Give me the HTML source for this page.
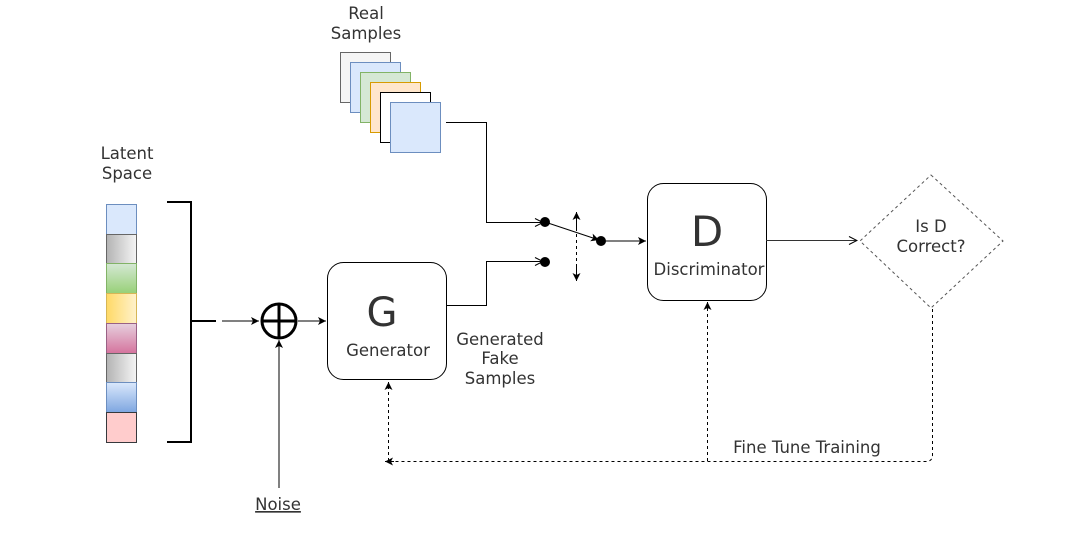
<!DOCTYPE html>
<html><head><meta charset="utf-8"><style>
html,body{margin:0;padding:0;background:#fff;}
svg{display:block;}
text{font-family:"DejaVu Sans","Liberation Sans",sans-serif;fill:#333;}
</style></head><body>
<svg width="1073" height="539" viewBox="0 0 1073 539" xmlns="http://www.w3.org/2000/svg">
<defs>
<marker id="a" markerWidth="10" markerHeight="10" refX="9" refY="5" orient="auto" markerUnits="userSpaceOnUse"><path d="M1,1 L9,5 L1,9 L3,5 z" fill="#000"/></marker>
<marker id="o" markerWidth="10" markerHeight="10" refX="9" refY="5" orient="auto" markerUnits="userSpaceOnUse"><path d="M1,1 L9,5 L1,9" fill="none" stroke="#000"/></marker>
<linearGradient id="g1" x1="0" y1="0" x2="1" y2="0"><stop offset="0" stop-color="#b3b3b3"/><stop offset="1" stop-color="#f5f5f5"/></linearGradient>
<linearGradient id="g2" x1="0" y1="1" x2="0" y2="0"><stop offset="0" stop-color="#97d077"/><stop offset="1" stop-color="#d5e8d4"/></linearGradient>
<linearGradient id="g3" x1="1" y1="0" x2="0" y2="0"><stop offset="0" stop-color="#fff2cc"/><stop offset="1" stop-color="#ffd966"/></linearGradient>
<linearGradient id="g4" x1="0" y1="0" x2="0" y2="1"><stop offset="0" stop-color="#e6d0de"/><stop offset="1" stop-color="#d5739d"/></linearGradient>
<linearGradient id="g5" x1="0" y1="0" x2="0" y2="1"><stop offset="0" stop-color="#dae8fc"/><stop offset="1" stop-color="#7ea6e0"/></linearGradient>
</defs>

<text x="366" y="19" font-size="16.5" text-anchor="middle">Real</text>
<text x="366" y="39" font-size="16.5" text-anchor="middle">Samples</text>
<rect x="340.5" y="52.5" width="50" height="50" fill="#f5f5f5" stroke="#666"/>
<rect x="350.5" y="62.5" width="50" height="50" fill="#dae8fc" stroke="#6c8ebf"/>
<rect x="360.5" y="72.5" width="50" height="50" fill="#d5e8d4" stroke="#82b366"/>
<rect x="370.5" y="82.5" width="50" height="50" fill="#ffe6cc" stroke="#d79b00"/>
<rect x="380.5" y="92.5" width="50" height="50" fill="#fff" stroke="#000"/>
<rect x="390.5" y="102.5" width="50" height="50" fill="#dae8fc" stroke="#6c8ebf"/>

<text x="127" y="159" font-size="16.5" text-anchor="middle">Latent</text>
<text x="127" y="179" font-size="16.5" text-anchor="middle">Space</text>
<g stroke="#666" stroke-width="1">
<rect x="106.5" y="204.5" width="30" height="30" fill="#dae8fc" stroke="#6c8ebf"/>
<rect x="106.5" y="234.5" width="30" height="29" fill="url(#g1)"/>
<rect x="106.5" y="263.5" width="30" height="30" fill="url(#g2)" stroke="#82b366"/>
<rect x="106.5" y="293.5" width="30" height="30" fill="url(#g3)" stroke="#d6b656"/>
<rect x="106.5" y="323.5" width="30" height="30" fill="url(#g4)" stroke="#996185"/>
<rect x="106.5" y="353.5" width="30" height="29" fill="url(#g1)"/>
<rect x="106.5" y="382.5" width="30" height="30" fill="url(#g5)" stroke="#6c8ebf"/>
<rect x="106.5" y="412.5" width="30" height="30" fill="#ffcccc" stroke="#36393d"/>
</g>
<path d="M167,202 H191 V442 H167 M191,321 H216" fill="none" stroke="#000" stroke-width="2"/>
<line x1="222" y1="321" x2="259" y2="321" stroke="#000" marker-end="url(#a)"/>
<circle cx="279" cy="321" r="17" fill="#fff" stroke="#000" stroke-width="3"/>
<path d="M262,321 H296 M279,304 V338" stroke="#000" stroke-width="3"/>
<line x1="298" y1="321" x2="326" y2="321" stroke="#000" marker-end="url(#a)"/>
<line x1="279" y1="488" x2="279" y2="340" stroke="#000" marker-end="url(#a)"/>
<text x="278" y="510" font-size="16.5" text-anchor="middle" text-decoration="underline">Noise</text>

<rect x="327.5" y="262.5" width="119" height="117" rx="16" fill="#fff" stroke="#000"/>
<text x="382" y="326" font-size="40" text-anchor="middle">G</text>
<text x="388" y="356" font-size="16.5" text-anchor="middle">Generator</text>
<text x="500" y="345" font-size="16.5" text-anchor="middle">Generated</text>
<text x="500" y="364" font-size="16.5" text-anchor="middle">Fake</text>
<text x="500" y="384" font-size="16.5" text-anchor="middle">Samples</text>

<path d="M446,122.5 H486.5 V222.5 H543" fill="none" stroke="#000" marker-end="url(#o)"/>
<path d="M446,305.5 H486.5 V261.5 H543" fill="none" stroke="#000" marker-end="url(#o)"/>
<circle cx="545" cy="222" r="5" fill="#000"/>
<circle cx="545" cy="262" r="5" fill="#000"/>
<line x1="545" y1="222" x2="599" y2="240" stroke="#000" marker-end="url(#a)"/>
<circle cx="601" cy="241" r="5" fill="#000"/>
<line x1="601" y1="241" x2="646" y2="241" stroke="#000" marker-end="url(#a)"/>
<line x1="576.5" y1="222" x2="576.5" y2="272" stroke="#000" stroke-dasharray="3,3"/>
<line x1="576.5" y1="230" x2="576.5" y2="212" stroke="#000" marker-end="url(#a)"/>
<line x1="576.5" y1="264" x2="576.5" y2="281" stroke="#000" marker-end="url(#a)"/>

<rect x="647.5" y="183.5" width="119" height="117" rx="16" fill="#fff" stroke="#000"/>
<text x="707" y="246" font-size="42" text-anchor="middle">D</text>
<text x="709" y="275" font-size="16.5" text-anchor="middle">Discriminator</text>
<line x1="766" y1="240.5" x2="857" y2="240.5" stroke="#333" marker-end="url(#o)"/>
<path d="M931,175 L1003,241 L931,308 L860,241 Z" fill="#fff" stroke="#555" stroke-dasharray="3,3"/>
<text x="931" y="232" font-size="16.5" text-anchor="middle">Is D</text>
<text x="931" y="252" font-size="16.5" text-anchor="middle">Correct?</text>

<path d="M932.5,309 V455 Q932.5,461.5 926,461.5 H390" fill="none" stroke="#000" stroke-dasharray="3,3"/>
<line x1="394" y1="461.5" x2="385" y2="461.5" stroke="#000" marker-end="url(#a)"/>
<line x1="388.5" y1="461" x2="388.5" y2="382" stroke="#000" stroke-dasharray="3,3" marker-end="url(#a)"/>
<line x1="707.5" y1="461" x2="707.5" y2="302" stroke="#000" stroke-dasharray="3,3" marker-end="url(#a)"/>
<text x="807" y="453" font-size="16.5" text-anchor="middle">Fine Tune Training</text>
</svg>
</body></html>
